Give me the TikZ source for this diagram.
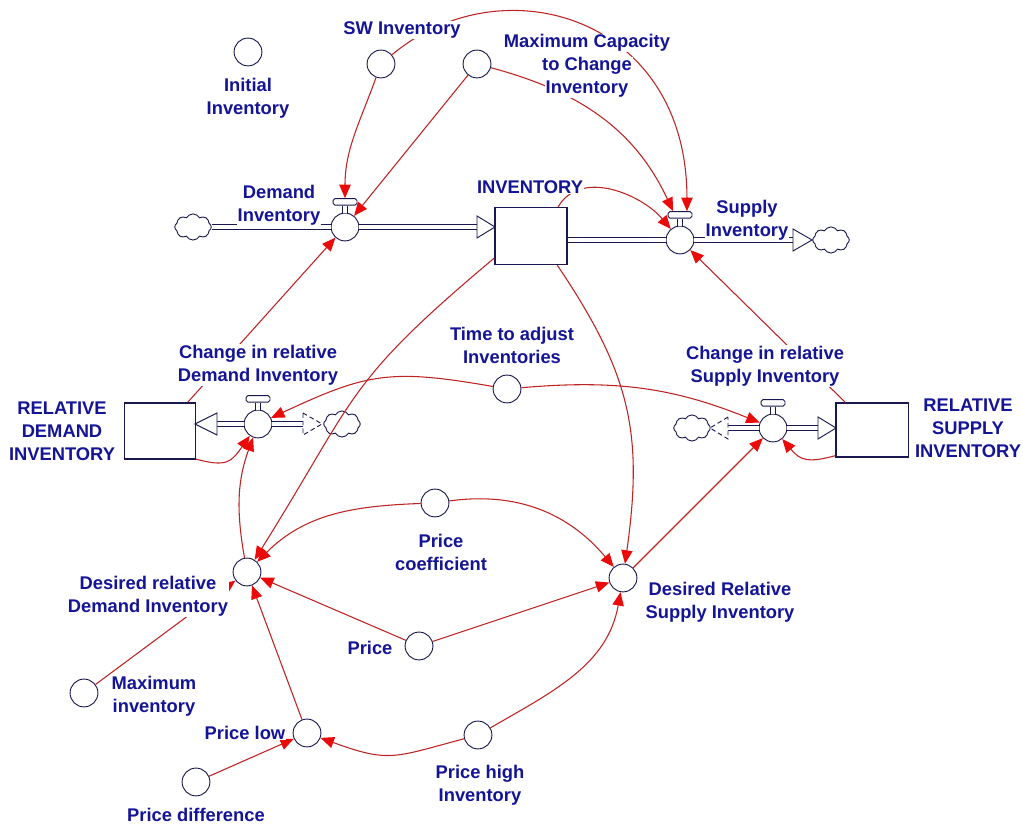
\documentclass[tikz,border=0pt]{standalone}
\usepackage{fontspec}
\setmainfont{Liberation Sans}
\usetikzlibrary{arrows.meta, positioning, shapes.symbols}

\definecolor{vblue}{RGB}{20,20,150}
\definecolor{vnavy}{RGB}{25,25,80}
\definecolor{vred}{RGB}{190,35,35}
\definecolor{vtip}{RGB}{235,10,10}

\tikzset{
  aux/.style={circle, draw=vnavy, fill=white, line width=0.6pt, minimum size=6.4mm, inner sep=0pt},
  valve/.style={aux},
  handle/.style={rectangle, rounded corners=1.2pt, draw=vnavy, fill=white, line width=0.6pt, minimum width=5.5mm, minimum height=1.5mm, inner sep=0pt},
  stock/.style={rectangle, draw=vnavy, fill=white, line width=0.8pt, inner sep=0pt},
  sky/.style={cloud, cloud puffs=8, cloud puff arc=120, cloud ignores aspect, draw=vnavy, fill=white, line width=0.6pt, minimum width=8.4mm, minimum height=6mm, inner sep=0pt},
  pipe/.style={draw=vnavy, line width=0.6pt, double=white, double distance=1.1mm},
  stem/.style={draw=vnavy, line width=0.5pt, double=white, double distance=0.9mm},
  flowhead/.style={draw=vnavy, fill=white, line width=0.6pt},
  srchead/.style={flowhead, dash pattern=on 3pt off 2pt},
  link/.style={draw=vred, line width=0.7pt, -{Triangle[length=3.1mm, width=2.6mm, color=vtip]}},
  lab/.style={text=vblue, font=\bfseries\fontsize{12}{15}\selectfont, align=center, fill=white, inner sep=0.5pt},
}
\setlength{\fboxsep}{0.5pt}

\begin{document}
\begin{tikzpicture}[x=0.023cm, y=0.023cm]
\useasboundingbox (0,0) rectangle (1023,826);

% stocks
\node[stock, minimum width=16.6mm, minimum height=13.1mm] (inv) at (531,590) {};
\node[stock, minimum width=16.3mm, minimum height=12.9mm] (rdi) at (160,395) {};
\node[stock, minimum width=16.6mm, minimum height=12.4mm] (rsi) at (872,396) {};

% valves with handles
\node[valve] (dval)  at (345,599) {};
\node[valve] (sval)  at (680,586) {};
\node[valve] (cdval) at (258,402) {};
\node[valve] (csval) at (773,398) {};
\node[handle, above=1.6mm of dval]  (dvalh)  {};
\node[handle, above=1.6mm of sval]  (svalh)  {};
\node[handle, above=1.6mm of cdval] (cdvalh) {};
\node[handle, above=1.6mm of csval] (csvalh) {};
\draw[stem] (dval) -- (dvalh);
\draw[stem] (sval) -- (svalh);
\draw[stem] (cdval) -- (cdvalh);
\draw[stem] (csval) -- (csvalh);

% clouds
\node[sky] (clA) at (193,599) {};
\node[sky] (clB) at (831,586) {};
\node[sky] (clC) at (342,402) {};
\node[sky] (clD) at (692,398) {};

% flows
\coordinate (dvalend)  at (477,599);
\coordinate (svalend)  at (793,586);
\coordinate (cdvalend) at (217,402);
\coordinate (cdsrc)    at (303,402);
\coordinate (csvalend) at (818,398);
\coordinate (cssrc)    at (728,398);

\draw[pipe] (clA) -- (dval);
\draw[pipe] (dval) -- (dvalend);
\draw[flowhead] (dvalend) ++(0,11) -- ++(18,-11) -- ++(-18,-11) -- cycle; %into INVENTORY

\draw[pipe] (inv.east |- sval) -- (sval);
\draw[pipe] (sval) -- (svalend);
\draw[flowhead] (svalend) ++(0,11) -- ++(19,-11) -- ++(-19,-11) -- cycle; %out to cloud

\draw[pipe] (cdval) -- (cdvalend);
\draw[flowhead] (cdvalend) ++(0,11) -- ++(-22,-11) -- ++(22,-11) -- cycle; %into relative demand
\draw[pipe] (cdval) -- (cdsrc);
\draw[srchead] (cdsrc) ++(0,11) -- ++(19,-11) -- ++(-19,-11) -- cycle;

\draw[pipe] (csval) -- (csvalend);
\draw[flowhead] (csvalend) ++(0,11) -- ++(18,-11) -- ++(-18,-11) -- cycle; %into relative supply
\draw[pipe] (cssrc) -- (csval);
\draw[srchead] (cssrc) ++(0,11) -- ++(-18,-11) -- ++(18,-11) -- cycle;

% auxiliaries
\node[aux] (initinv) at (248,774) {};
\node[aux] (swinv)   at (381,762) {};
\node[aux] (maxcap)  at (477,762) {};
\node[aux] (tadj)    at (507,437) {};
\node[aux] (pcoef)   at (435,323) {};
\node[aux] (drdi)    at (247,254) {};
\node[aux] (drsi)    at (623,248) {};
\node[aux] (price)   at (419,180) {};
\node[aux] (maxinv)  at (84,133)  {};
\node[aux] (plow)    at (307,93)  {};
\node[aux] (phigh)   at (478,91)  {};
\node[aux] (pdiff)   at (196,44)  {};

% links
\draw[link] (swinv) to[out=250, in=90] (dvalh);
\draw[link] (swinv) to[out=40, in=90, out looseness=1.1, in looseness=1.5] ([xshift=1.6mm]svalh.north);
\draw[link] (maxcap) -- (dval);
\draw[link] (maxcap) to[out=-15, in=115] ([xshift=-1.6mm]svalh.north);
\draw[link] (inv.47) to[out=60, in=130] (sval);
\draw[link] (rdi.46) -- (dval);
\draw[link] (rsi.134) -- (sval);
\draw[link] (inv.211) to[out=220, in=58, looseness=1.3] (drdi);
\draw[link] (inv.-48) to[out=-56, in=82, looseness=1.1] (drsi);
\draw[link] (tadj) to[out=170, in=25, looseness=1.2] (cdval);
\draw[link] (tadj) to[out=5, in=158] (csval);
\draw[link] (rdi.-38) to[out=-15, in=235, looseness=1.4] (cdval);
\draw[link] (rsi.215) to[out=195, in=-50, looseness=1.3] (csval);
\draw[link] (drdi) to[out=100, in=-110] (cdval);
\draw[link] (drsi) -- (csval);
\draw[link] (pcoef) to[out=182, in=45] (drdi);
\draw[link] (pcoef) to[out=8, in=130] (drsi);
\draw[link] (price) -- (drdi);
\draw[link] (price) -- (drsi);
\draw[link] (maxinv) -- (drdi);
\draw[link] (plow) -- (drdi);
\draw[link] (pdiff) -- (plow);
\draw[link] (phigh) to[out=195, in=-20, looseness=1.3] (plow);
\draw[link] (phigh) to[out=30, in=-100] (drsi);

% labels
\node[lab] (initinvl) at (248,728) {Initial\\Inventory};
\node[lab] (swinvl)   at (402,796) {SW Inventory};
\node[lab, fill=none] (maxcapl) at (587,760) {\colorbox{white}{Maximum Capacity}\\\colorbox{white}{to Change}\\\colorbox{white}{Inventory}};
\node[lab] (invl)     at (530,639) {INVENTORY};
\node[lab] (dvall)    at (279,621) {Demand\\Inventory};
\node[lab] (svall)    at (747,606) {Supply\\Inventory};
\node[lab] (cdvall)   at (258,461) {Change in relative\\Demand Inventory};
\node[lab] (csvall)   at (765,460) {Change in relative\\Supply Inventory};
\node[lab] (rdil)     at (62,395)  {RELATIVE\\DEMAND\\INVENTORY};
\node[lab] (rsil)     at (968,398) {RELATIVE\\SUPPLY\\INVENTORY};
\node[lab] (tadjl)    at (512,481) {Time to adjust\\Inventories};
\node[lab] (pcoefl)   at (441,274) {Price\\coefficient};
\node[lab] (drdil)    at (148,230) {Desired relative\\Demand Inventory};
\node[lab] (drsil)    at (720,224) {Desired Relative\\Supply Inventory};
\node[lab] (pricel)   at (370,178) {Price};
\node[lab] (maxinvl)  at (154,130) {Maximum\\inventory};
\node[lab] (plowl)    at (245,93)  {Price low};
\node[lab] (phighl)   at (480,41)  {Price high\\Inventory};
\node[lab] (pdiffl)   at (196,11)  {Price difference};

\end{tikzpicture}
\end{document}
